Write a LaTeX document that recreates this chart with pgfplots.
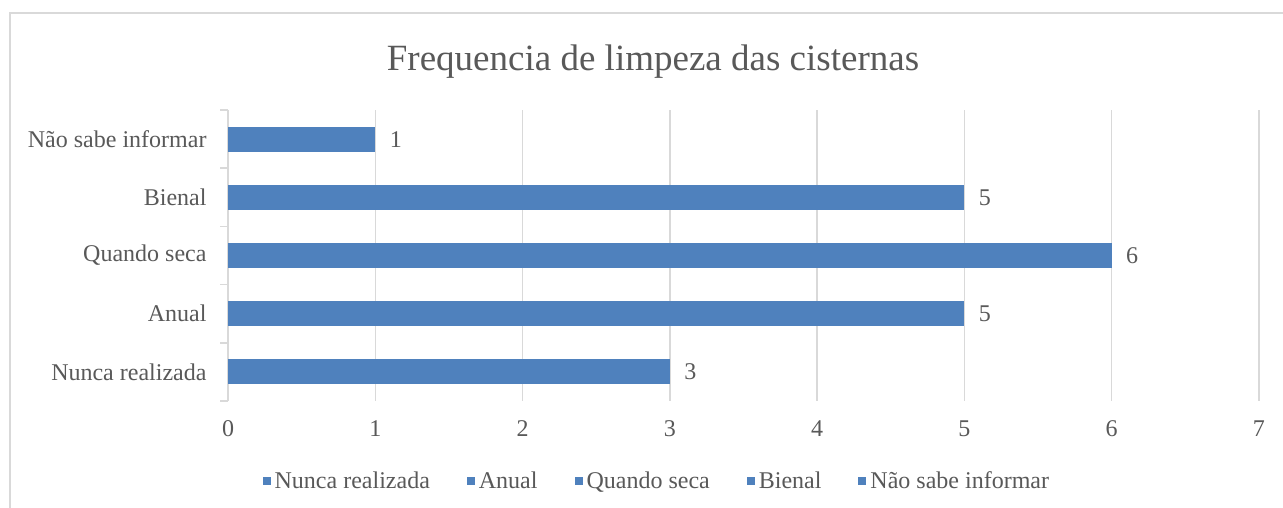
\documentclass[border=0pt]{standalone}
\usepackage{fontspec}
\setmainfont{Liberation Serif}
\usepackage{pgfplots}
\pgfplotsset{compat=1.18}
\definecolor{barblue}{HTML}{4F81BD}
\definecolor{txt}{HTML}{595959}
\definecolor{gridc}{HTML}{D9D9D9}
\begin{document}
\begin{tikzpicture}[x=1bp,y=1bp]
\path[use as bounding box, fill=white] (0,0) rectangle (1283,508);
\draw[gridc, line width=1.5bp] (10,0) -- (10,495) -- (1283,495);
\node[text=txt, font=\fontsize{37bp}{44bp}\selectfont] at (653,446) {Frequencia de limpeza das cisternas};
\begin{axis}[
  at={(228bp,107bp)}, anchor=south west,
  width=1031bp, height=291bp, scale only axis,
  xmin=0, xmax=7, ymin=-0.5, ymax=4.5,
  xtick={0,...,7}, ytick={0,...,4},
  yticklabels={Nunca realizada, Anual, Quando seca, Bienal, Não sabe informar},
  minor ytick={-0.5,0.5,...,4.5},
  xmajorgrids, major x grid style={gridc, line width=1.5bp},
  axis lines*=left, axis line style={-},
  x axis line style={draw=none},
  y axis line style={gridc, line width=1.5bp},
  major tick length=0pt, minor tick length=8bp, tick align=outside,
  minor tick style={gridc, line width=1.5bp},
  /pgf/number format/assume math mode=true,
  ticklabel style={text=txt, font=\fontsize{24bp}{28bp}\selectfont},
  xticklabel style={yshift=-16bp},
  yticklabel style={xshift=-18bp},
  xbar, bar shift=0pt, bar width=25bp,
  nodes near coords,
  every node near coord/.append style={text=txt, font=\fontsize{24bp}{28bp}\selectfont, anchor=west, xshift=11bp},
  legend style={at={(0.416,-0.275)}, anchor=center, draw=none, fill=none,
    legend columns=5, font=\fontsize{24bp}{28bp}\selectfont, text=txt,
    nodes={inner xsep=2bp},
    /tikz/every even column/.append style={column sep=35bp}},
  legend image code/.code={\fill[barblue] (0bp,-4bp) rectangle (8bp,4bp); \path (10bp,0bp);},
]
\addplot[fill=barblue, draw=none] coordinates {(3,0)};
\addlegendentry{Nunca realizada}
\addplot[fill=barblue, draw=none] coordinates {(5,1)};
\addlegendentry{Anual}
\addplot[fill=barblue, draw=none] coordinates {(6,2)};
\addlegendentry{Quando seca}
\addplot[fill=barblue, draw=none] coordinates {(5,3)};
\addlegendentry{Bienal}
\addplot[fill=barblue, draw=none] coordinates {(1,4)};
\addlegendentry{Não sabe informar}
\end{axis}
\end{tikzpicture}
\end{document}
